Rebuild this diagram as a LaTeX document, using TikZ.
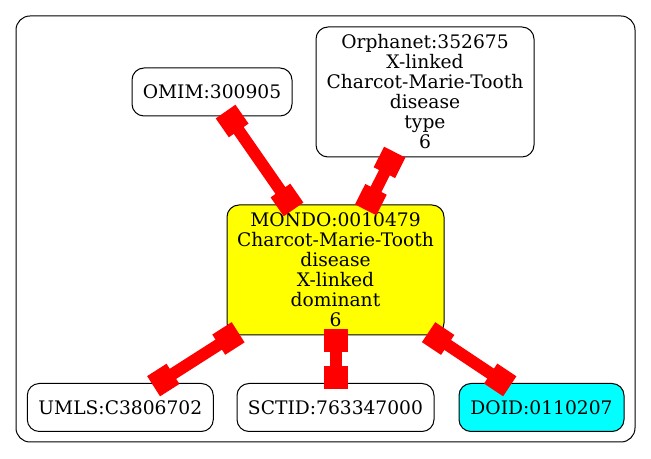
\documentclass[tikz,border=0pt]{standalone}
\usepackage{fontspec}
\setmainfont{DejaVu Serif}
\usetikzlibrary{arrows.meta}
\definecolor{edge}{HTML}{FF0000}
\definecolor{focus}{HTML}{FFFF00}
\definecolor{xref}{HTML}{00FFFF}
\tikzset{
  term/.style={draw=black, line width=0.75pt, rounded corners=9pt, align=center, inner sep=2pt, font=\fontsize{14}{15}\selectfont},
  small/.style={term, minimum height=36pt},
  tall/.style={term, minimum height=97.5pt},
  link/.style={draw=edge, line width=9pt, >={Rectangle[length=17.25pt,width=18pt]}, <->, shorten <=-4.5pt, shorten >=-4.5pt},
}

\begin{document}
\begin{tikzpicture}[x=0.75pt,y=-0.75pt]
  \useasboundingbox (0,0) rectangle (651,459);
  % cluster
  \draw[line width=0.75pt, rounded corners=10.5pt] (16,16) rectangle (635,442);
  % terms
  \node[tall, fill=focus, minimum width=162.75pt] (mondo) at (335.5,270) {MONDO:0010479\\Charcot-Marie-Tooth\\disease\\X-linked\\dominant\\6};
  \node[small, minimum width=120pt] (omim) at (212,92) {OMIM:300905};
  \node[tall, minimum width=163.5pt] (orpha) at (425,92) {Orphanet:352675\\X-linked\\Charcot-Marie-Tooth\\disease\\type\\6};
  \node[small, minimum width=139.5pt] (umls) at (120.3,407.5) {UMLS:C3806702};
  \node[small, minimum width=147.75pt] (sctid) at (335.5,407.5) {SCTID:763347000};
  \node[small, fill=xref, minimum width=123.75pt] (doid) at (541.5,407.5) {DOID:0110207};
  % links
  \foreach \t in {omim,orpha,umls,sctid,doid}
    \draw[link] (\t) -- (mondo);
\end{tikzpicture}
\end{document}
